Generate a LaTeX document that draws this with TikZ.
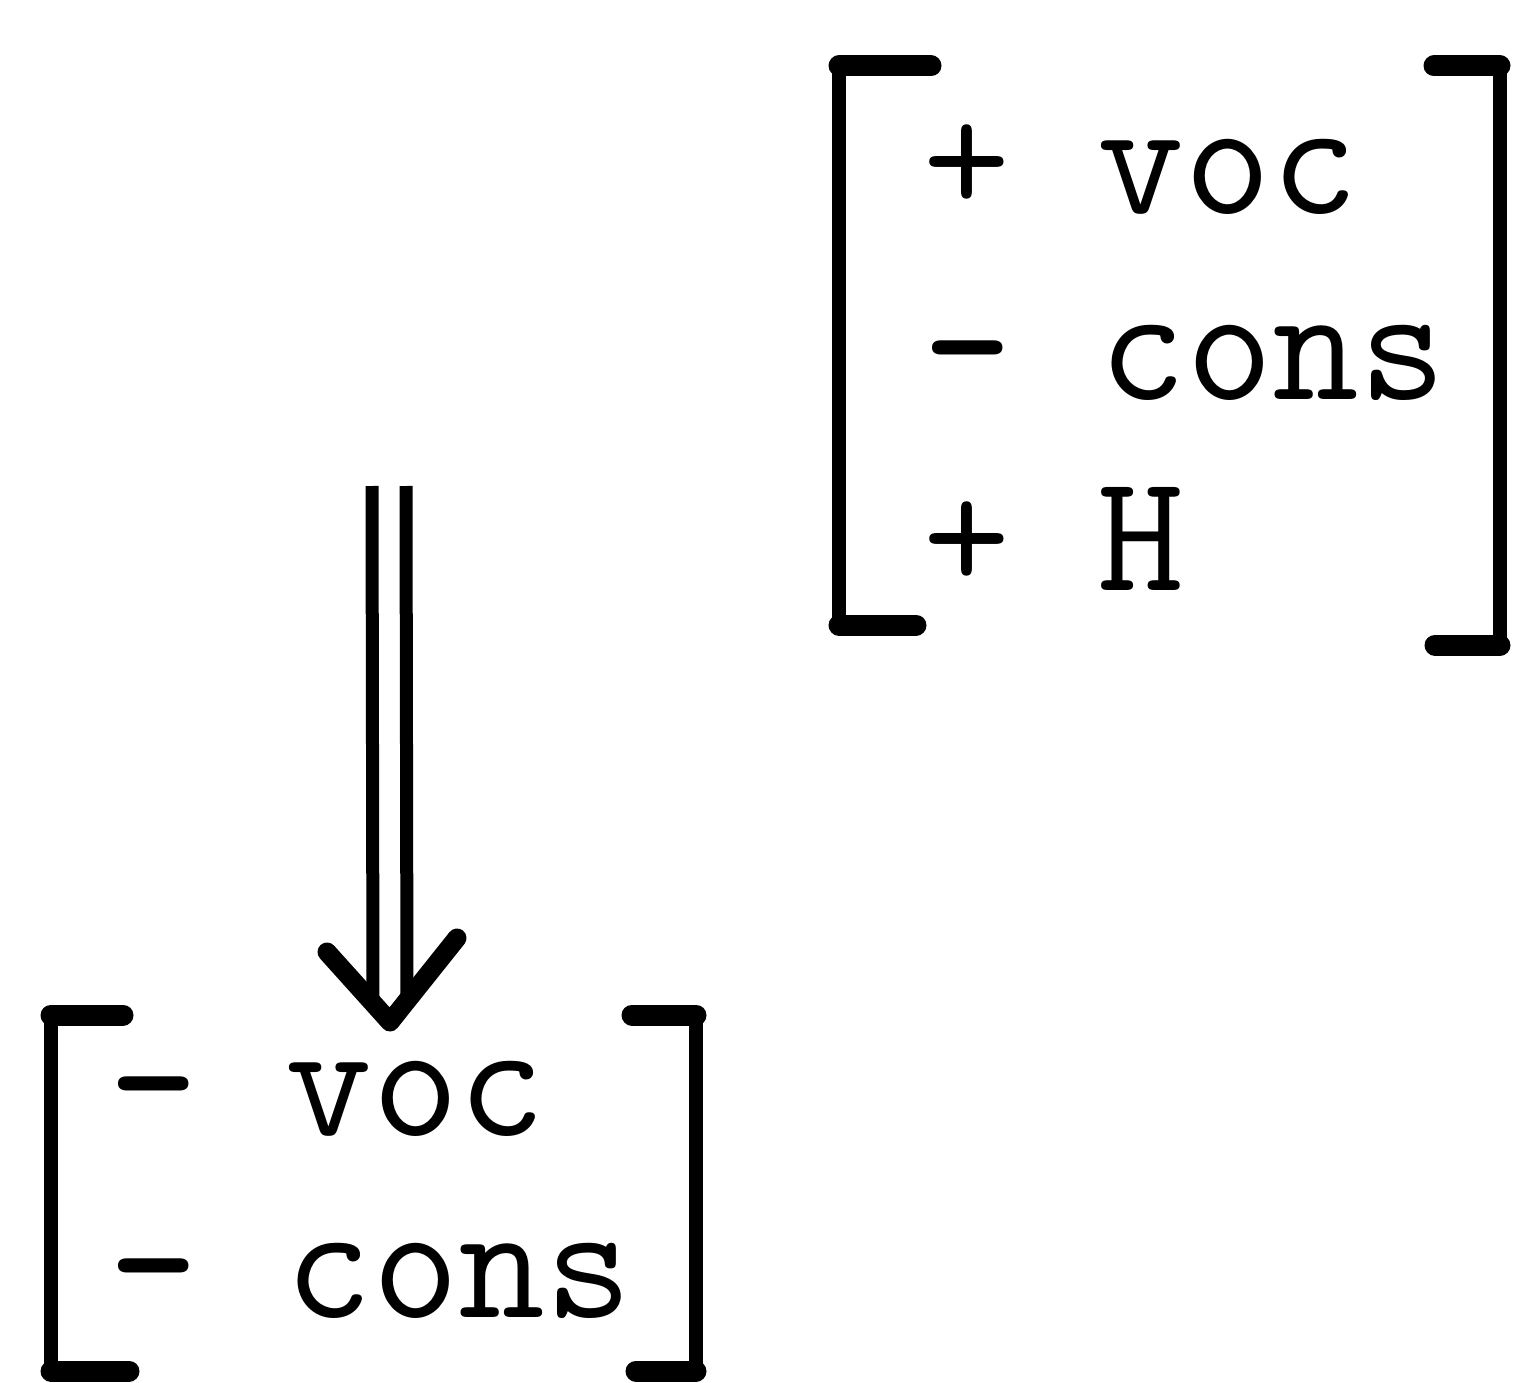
\documentclass[tikz,border=0pt]{standalone}
\usepackage{fontspec}
\usetikzlibrary{positioning,calc}

\begin{document}
\begin{tikzpicture}[
  feat/.style={
    font=\ttfamily\fontsize{48}{48}\selectfont,
    anchor=base west,
    inner sep=0pt
  },
  box/.style={
    inner sep=0pt,
    outer sep=0pt
  },
  brack/.style={
    line width=1.4mm,
    line join=miter
  },
  tick/.style={
    line width=2.1mm,
    line cap=round
  },
  rail/.style={
    line width=1.3mm
  },
  barb/.style={
    line width=1.9mm,
    line cap=round,
    line join=round
  }
]
\useasboundingbox (0,0) rectangle (15.18,-13.83);

% Upper feature matrix
\node[feat] (uvoc) at (9.23,-2.14) {+ voc};
\node[feat] (ucons) at (9.23,-4.00) {\textbf{-} cons};
\node[feat] (uh) at (9.23,-5.90) {+ H};

\node[box,minimum width=6.61cm,minimum height=5.7cm] (upper) at (11.695,-3.51) {};

\draw[brack] ([xshift=9.2mm]upper.north west) -- (upper.north west)
  -- ([yshift=1.1mm]upper.south west) -- ++(7.7mm,0);
\draw[brack] ([xshift=-6.6mm]upper.north east) -- (upper.north east)
  -- ([yshift=-0.9mm]upper.south east) -- ++(-6.5mm,0);
\draw[tick] ([xshift=9.2mm]upper.north west) -- (upper.north west);
\draw[tick] ([yshift=1.1mm]upper.south west) -- ++(7.7mm,0);
\draw[tick] ([xshift=-6.6mm]upper.north east) -- (upper.north east);
\draw[tick] ([yshift=-0.9mm]upper.south east) -- ++(-6.5mm,0);

% Lower feature matrix
\node[feat] (lvoc) at (1.09,-11.35) {\textbf{-} voc};
\node[feat] (lcons) at (1.09,-13.17) {\textbf{-} cons};

\node[box,minimum width=6.45cm,minimum height=3.56cm] (lower) at (3.735,-11.93) {};

\draw[brack] ([xshift=7.2mm]lower.north west) -- (lower.north west)
  -- (lower.south west) -- ++(7.8mm,0);
\draw[brack] ([xshift=-6.4mm]lower.north east) -- (lower.north east)
  -- (lower.south east) -- ++(-6.0mm,0);
\draw[tick] ([xshift=7.2mm]lower.north west) -- (lower.north west);
\draw[tick] (lower.south west) -- ++(7.8mm,0);
\draw[tick] ([xshift=-6.4mm]lower.north east) -- (lower.north east);
\draw[tick] (lower.south east) -- ++(-6.0mm,0);

% Rewrite arrow
\coordinate (src) at (3.89,-4.86);
\coordinate (tip) at ($(src |- lower.north)+(0.01,-0.07)$);
\draw[rail] ($(src)+(-0.17,0)$) -- ($(tip)+(-0.17,0.17)$);
\draw[rail] ($(src)+(0.17,0)$) -- ($(tip)+(0.17,0.17)$);
\draw[barb] ($(tip)+(-0.63,0.70)$) -- (tip) -- ($(tip)+(0.67,0.84)$);

\end{tikzpicture}
\end{document}
